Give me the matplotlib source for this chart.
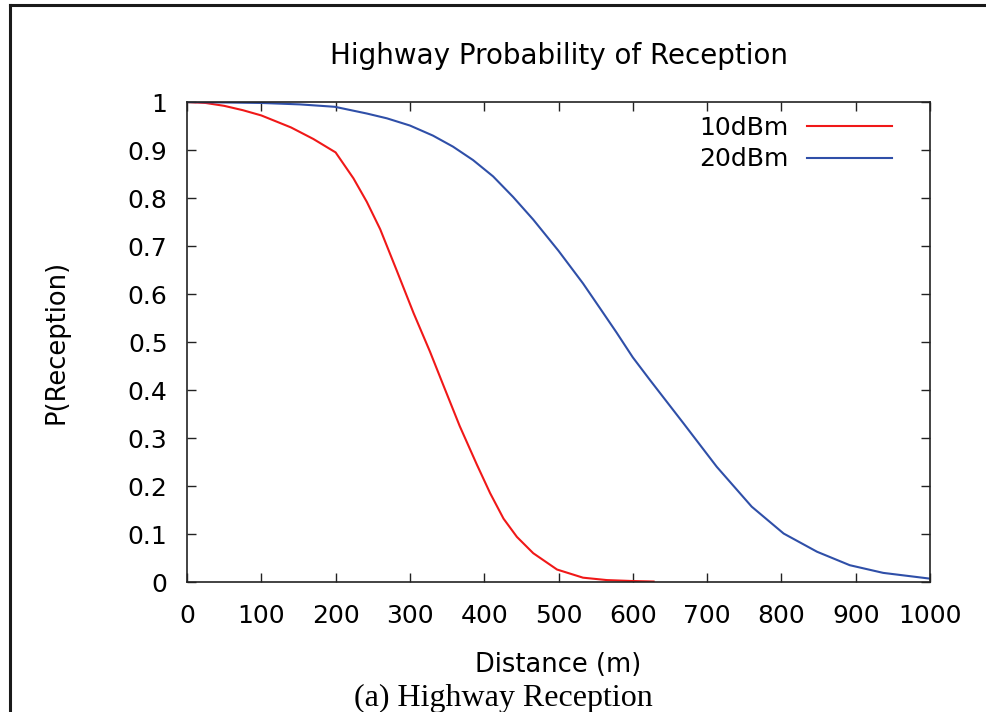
import matplotlib.pyplot as plt
from matplotlib.lines import Line2D

# distance (m) and P(reception)
dist_10 = [0, 25, 50, 75, 100, 140, 170, 200, 224, 242, 260, 282, 305, 327,
           345, 367, 390, 408, 426, 444, 466, 498, 533, 565, 600, 628]
prob_10 = [1.0, 0.998, 0.992, 0.983, 0.972, 0.947, 0.923, 0.895, 0.841, 0.792,
           0.735, 0.65, 0.56, 0.48, 0.41, 0.325, 0.245, 0.185, 0.132, 0.094,
           0.06, 0.026, 0.009, 0.004, 0.002, 0.001]

dist_20 = [0, 50, 100, 152, 199, 242, 269, 300, 331, 358, 385, 412, 439, 466,
           500, 533, 556, 578, 600, 623, 668, 713, 760, 803, 848, 892, 937, 1000]
prob_20 = [1.0, 0.999, 0.998, 0.995, 0.99, 0.976, 0.966, 0.951, 0.93, 0.907,
           0.879, 0.845, 0.802, 0.755, 0.69, 0.622, 0.57, 0.52, 0.468, 0.421,
           0.331, 0.24, 0.157, 0.101, 0.063, 0.035, 0.019, 0.007]

x_ticks = list(range(0, 1001, 100))
y_ticks = [0, 0.1, 0.2, 0.3, 0.4, 0.5, 0.6, 0.7, 0.8, 0.9, 1]
y_labels = ['0', '0.1', '0.2', '0.3', '0.4', '0.5', '0.6', '0.7', '0.8', '0.9', '1']

plt.rcParams['font.family'] = ['DejaVu Sans']

fig = plt.figure(figsize=(9.87, 7.12), dpi=100)
ax = fig.add_axes((187 / 987, 130 / 712, 743 / 987, 480 / 712))

ax.plot(dist_10, prob_10, color='#f01818', lw=1.5, label='10dBm')
ax.plot(dist_20, prob_20, color='#2f4fa8', lw=1.5, label='20dBm')

ax.set_xlim(0, 1000)
ax.set_ylim(0, 1)
ax.set_xticks(x_ticks)
ax.set_yticks(y_ticks)
ax.set_yticklabels(y_labels)
ax.tick_params(direction='in', length=6.5, width=1, top=True, right=True,
               labelsize=18, colors='#222222', labelcolor='black')
ax.tick_params(axis='y', pad=14)
ax.tick_params(axis='x', pad=16)
for s in ax.spines.values():
    s.set_color('#222222')
    s.set_linewidth(1.2)

ax.set_title('Highway Probability of Reception', fontsize=20, pad=27)
ax.set_xlabel('Distance (m)', fontsize=18.5, labelpad=17)
ax.set_ylabel('P(Reception)', fontsize=18.5, labelpad=42)

ax.legend(loc='upper right', bbox_to_anchor=(892 / 987, 1 - 116 / 712),
          bbox_transform=fig.transFigure, frameon=False, markerfirst=False,
          fontsize=18, handlelength=3.4, handletextpad=0.75, borderpad=0,
          borderaxespad=0, labelspacing=0.3)

# caption under the plot
fig.text(503 / 987, 6 / 712, '(a) Highway Reception', family='Liberation Serif',
         fontsize=23, ha='center', va='baseline')

# frame lines on the left and top edges
fig.add_artist(Line2D([10 / 987, 10 / 987], [0, 1 - 5 / 712],
                      transform=fig.transFigure, color='#1a1a1a', lw=2.2))
fig.add_artist(Line2D([10 / 987, 1], [1 - 5 / 712, 1 - 5 / 712],
                      transform=fig.transFigure, color='#1a1a1a', lw=2.2))

fig.savefig('out.png', dpi=100)
